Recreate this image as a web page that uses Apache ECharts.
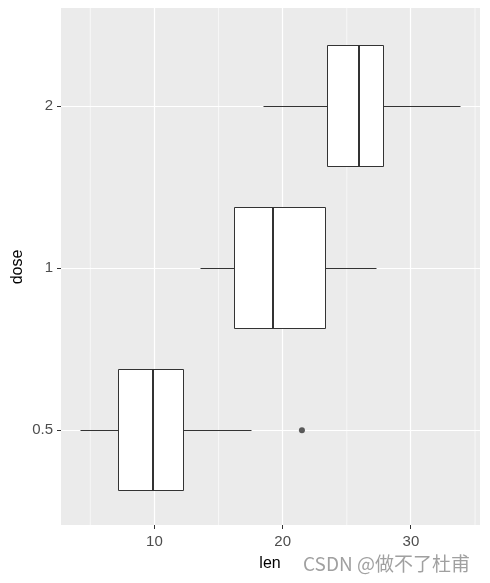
<!DOCTYPE html>
<html><head><meta charset="utf-8">
<script src="https://cdn.jsdelivr.net/npm/echarts@6/dist/echarts.min.js"></script>
<style>html,body{margin:0;padding:0;background:#fff}#c{width:490px;height:583px}</style>
</head><body><div id="c"></div>
<script>
const doses = ['0.5', '1', '2'];
const mins = [4.2, 13.6, 18.5];
const q1s = [7.225, 16.25, 23.525];
const medians = [9.85, 19.25, 25.95];
const q3s = [12.25, 23.375, 27.825];
const maxs = [17.6, 27.3, 33.9];
const outlierDose = ['0.5'];
const outlierLen = [21.5];
const xTicks = [10, 20, 30];
const xMinor = [5, 15, 25, 35];

const boxData = doses.map((d, i) => [i, mins[i], q1s[i], medians[i], q3s[i], maxs[i]]);
const outData = outlierDose.map((d, i) => [outlierLen[i], doses.indexOf(d)]);

const snap = v => Math.round(v - 0.5) + 0.5;
const chart = echarts.init(document.getElementById('c'));
const FONT = 'Liberation Sans';
chart.setOption({
  animation: false,
  tooltip: { show: false },
  backgroundColor: '#ffffff',
  grid: { left: 61, right: 10, top: 8, bottom: 58, show: true, backgroundColor: '#ebebeb', borderWidth: 0 },
  xAxis: {
    type: 'value', min: 2.715, max: 35.385,
    axisLine: { show: false },
    splitLine: { show: false },
    axisTick: { show: false },
    axisLabel: { customValues: xTicks, color: '#4d4d4d', fontSize: 15, fontFamily: FONT, margin: 9 }
  },
  yAxis: {
    type: 'value', min: -0.585, max: 2.605,
    axisLine: { show: false },
    splitLine: { show: false },
    axisTick: { show: true, customValues: [0, 1, 2], length: 4, lineStyle: { color: '#333333', width: 1 } },
    axisLabel: { customValues: [0, 1, 2], color: '#4d4d4d', fontSize: 15, fontFamily: FONT, margin: 8,
      formatter: v => doses[Math.round(v)] }
  },
  graphic: [
    { type: 'text', x: 270, y: 564, style: { text: 'len', fontSize: 16, fontFamily: FONT, fill: '#000000', align: 'center', verticalAlign: 'middle' } },
    { type: 'text', x: 18, y: 267, rotation: Math.PI / 2, style: { text: 'dose', fontSize: 16, fontFamily: FONT, fill: '#000000', align: 'center', verticalAlign: 'middle' } },
    { type: 'text', x: 303, y: 564, style: { text: 'CSDN @做不了杜甫', fontSize: 19, fontFamily: 'Noto Sans CJK SC', fill: 'rgba(120,120,120,0.7)', align: 'left', verticalAlign: 'middle' } }
  ],
  series: [
    {
      type: 'custom', silent: true, z: 1, clip: false,
      data: [0],
      renderItem: (params, api) => {
        const cs = params.coordSys;
        const bottom = cs.y + cs.height;
        const children = [];
        xMinor.forEach(v => {
          const x = api.coord([v, 0])[0];
          children.push({ type: 'line', shape: { x1: x, y1: cs.y, x2: x, y2: bottom },
            style: { stroke: '#ffffff', lineWidth: 0.6 } });
        });
        xTicks.forEach(v => {
          const x = snap(api.coord([v, 0])[0]);
          children.push({ type: 'line', shape: { x1: x, y1: cs.y, x2: x, y2: bottom },
            style: { stroke: '#ffffff', lineWidth: 1.2 } });
          children.push({ type: 'line', shape: { x1: x, y1: bottom, x2: x, y2: bottom + 4 },
            style: { stroke: '#333333', lineWidth: 1 } });
        });
        doses.forEach((d, i) => {
          const y = snap(api.coord([5, i])[1]);
          children.push({ type: 'line', shape: { x1: cs.x, y1: y, x2: cs.x + cs.width, y2: y },
            style: { stroke: '#ffffff', lineWidth: 1.2 } });
        });
        return { type: 'group', children };
      }
    },
    {
      type: 'custom', z: 3, silent: true,
      data: boxData,
      encode: { y: 0, x: [1, 2, 3, 4, 5] },
      renderItem: (params, api) => {
        const i = api.value(0);
        const xMin = snap(api.coord([api.value(1), i])[0]);
        const xQ1 = snap(api.coord([api.value(2), i])[0]);
        const xMed = Math.round(api.coord([api.value(3), i])[0]);
        const xQ3 = snap(api.coord([api.value(4), i])[0]);
        const xMax = snap(api.coord([api.value(5), i])[0]);
        const yc = api.coord([api.value(3), i])[1];
        const h = api.size([0, 1])[1] * 0.375;
        const y = snap(yc);
        const y0 = snap(yc - h), y1 = snap(yc + h);
        const st = { stroke: '#333333', lineWidth: 1, fill: null };
        return { type: 'group', children: [
          { type: 'line', shape: { x1: xMin, y1: y, x2: xQ1, y2: y }, style: st },
          { type: 'line', shape: { x1: xQ3, y1: y, x2: xMax, y2: y }, style: st },
          { type: 'rect', shape: { x: xQ1, y: y0, width: xQ3 - xQ1, height: y1 - y0 },
            style: { stroke: '#333333', lineWidth: 1, fill: '#ffffff' } },
          { type: 'line', shape: { x1: xMed, y1: y0, x2: xMed, y2: y1 },
            style: { stroke: '#333333', lineWidth: 2 } }
        ] };
      }
    },
    {
      type: 'scatter', z: 4, silent: true,
      data: outData, symbol: 'circle', symbolSize: 6,
      itemStyle: { color: '#333333' }
    }
  ]
});
</script></body></html>
